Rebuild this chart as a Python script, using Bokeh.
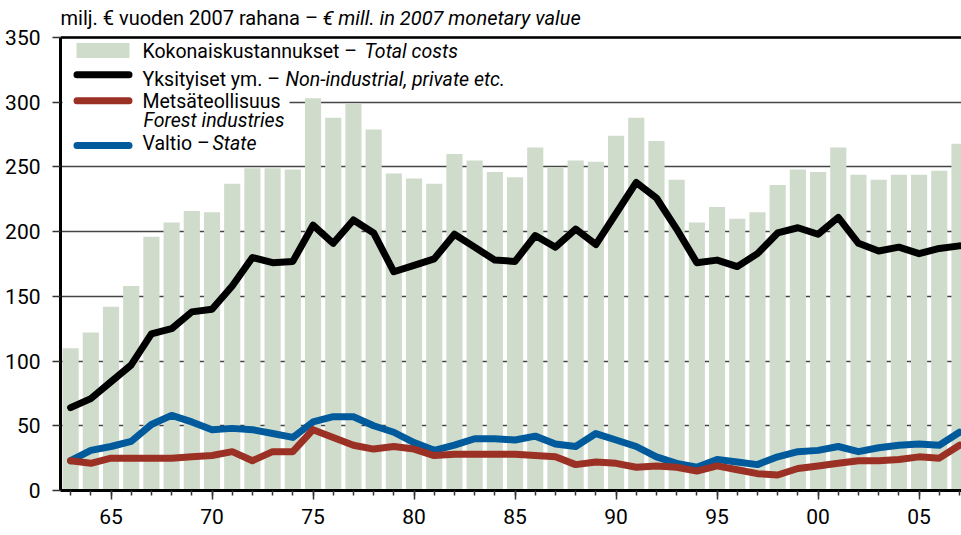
from bokeh.plotting import figure
from bokeh.models import Range1d, FixedTicker, Label, BoxAnnotation, Span
from bokeh.embed import file_html
from bokeh.resources import INLINE

# ---------------- data ----------------
years = list(range(1963, 2008))
total_costs = [110, 122, 142, 158, 196, 207, 216, 215, 237, 249, 249, 248,
               303, 288, 299, 279, 245, 241, 237, 260, 255, 246,
               242, 265, 250, 255, 254, 274, 288, 270, 240, 207,
               219, 210, 215, 236, 248, 246, 265, 244, 240, 244,
               244, 247, 268]
private = [64, 71, 84, 97, 121, 125, 138, 140, 158, 180, 176, 177,
           205, 191, 209, 199, 169, 174, 179, 198, 188, 178,
           177, 197, 188, 202, 190, 214, 238, 226, 202, 176,
           178, 173, 183, 199, 203, 198, 211, 191, 185, 188,
           183, 187, 189]
forest_ind = [23, 21, 25, 25, 25, 25, 26, 27, 30, 23, 30, 30,
              47, 41, 35, 32, 34, 32, 27, 28, 28, 28,
              28, 27, 26, 20, 22, 21, 18, 19, 18, 15,
              19, 16, 13, 12, 17, 19, 21, 23, 23, 24,
              26, 25, 35]
state = [23, 31, 34, 38, 51, 58, 53, 47, 48, 47, 44, 41,
         53, 57, 57, 50, 45, 37, 31, 35, 40, 40,
         39, 42, 36, 34, 44, 39, 34, 26, 21, 18,
         24, 22, 20, 26, 30, 31, 34, 30, 33, 35,
         36, 35, 45]
x_tick_years = [1965, 1970, 1975, 1980, 1985, 1990, 1995, 2000, 2005]
x_tick_labels = ["65", "70", "75", "80", "85", "90", "95", "00", "05"]
y_ticks = [0, 50, 100, 150, 200, 250, 300, 350]

title_plain = "milj. € vuoden 2007 rahana – "
title_italic = "€ mill. in 2007 monetary value"
leg_total = ("Kokonaiskustannukset – ", "Total costs")
leg_private = ("Yksityiset ym. – ", "Non-industrial, private etc.")
leg_forest = ("Metsäteollisuus", "Forest industries")
leg_state = ("Valtio – ", "State")

# ---------------- style ----------------
FONT = "Roboto"
BAR = "#d0dccb"
RED = "#9b3024"
BLUE = "#005a9b"
Y_TOP = 350 + 37 / (453 / 350)   # frame extends up to the page top (title area)
TXT_SHIFT = 7                   # label baseline correction (px)

p = figure(width=961, height=535, output_backend="svg", toolbar_location=None,
           x_range=Range1d(1962.5, 2007.1), y_range=Range1d(0, Y_TOP),
           min_border_left=60, min_border_right=0, min_border_top=0,
           min_border_bottom=45)
p.background_fill_color = "white"
p.border_fill_color = "white"
p.outline_line_color = None

p.vbar(x=years, top=total_costs, width=0.8, fill_color=BAR, line_color=None)
p.line(years, state, line_width=7, line_color=BLUE, line_join="round", line_cap="round")
p.line(years, forest_ind, line_width=7, line_color=RED, line_join="round", line_cap="round")
p.line(years, private, line_width=7, line_color="black", line_join="round", line_cap="round")

# grid / axes
p.xgrid.grid_line_color = None
p.ygrid.grid_line_color = "#444444"
p.ygrid.grid_line_width = 1.5
p.add_layout(Span(location=350, dimension="width", line_color="black", line_width=2.5))

xa = p.xaxis[0]
xa.ticker = FixedTicker(ticks=x_tick_years, minor_ticks=years)
xa.major_label_overrides = dict(zip(x_tick_years, x_tick_labels))
xa.axis_line_color = "black"
xa.axis_line_width = 3
xa.major_tick_out = 9
xa.major_tick_in = 0
xa.minor_tick_out = 5
xa.minor_tick_in = 0
xa.major_tick_line_color = "#333333"
xa.minor_tick_line_color = "#333333"
xa.major_tick_line_width = 1.5
xa.minor_tick_line_width = 1.5
xa.major_label_text_font = FONT
xa.major_label_text_font_size = "21px"
xa.major_label_text_color = "black"
xa.major_label_standoff = 9

ya = p.yaxis[0]
ya.ticker = FixedTicker(ticks=y_ticks)
ya.bounds = (0, 350)
ya.axis_line_color = "black"
ya.axis_line_width = 3
ya.major_tick_out = 8
ya.major_tick_in = 0
ya.minor_tick_line_color = None
ya.major_tick_line_color = "#333333"
ya.major_tick_line_width = 1.5
ya.major_label_text_font = FONT
ya.major_label_text_font_size = "21px"
ya.major_label_text_color = "black"
ya.major_label_standoff = 12


def sy(ref_y):
    # page y -> frame-relative screen y (measured up from the frame bottom at 490)
    return 490 - ref_y


def sx(ref_x):
    return ref_x - 60


def label(text, rx, ry, italic=False, size="19.5px"):
    p.add_layout(Label(x=sx(rx), y=sy(ry - TXT_SHIFT), x_units="screen", y_units="screen",
                       text=text, text_font=FONT, text_font_size=size,
                       text_font_style="italic" if italic else "normal",
                       text_color="black", text_baseline="alphabetic",
                       text_align="left"))


def box(l, r, t, b, color, radius=0):
    p.add_layout(BoxAnnotation(left=sx(l), right=sx(r), top=sy(t), bottom=sy(b),
                               left_units="screen", right_units="screen",
                               top_units="screen", bottom_units="screen",
                               fill_color=color, fill_alpha=1, line_color=None,
                               border_radius=radius))


# title
label(title_plain, 60, 24, size="20px")
label(title_italic, 322, 24, italic=True, size="20px")

# legend
box(62, 289, 39, 158, "white")
box(76, 129, 42.5, 57.5, BAR)
for cy, col in [(74.3, "black"), (100.3, RED), (145.0, BLUE)]:
    box(73, 132, cy - 3.5, cy + 3.5, col, radius=4)

label(leg_total[0], 142, 57.5)
label(leg_total[1], 364, 57.5, italic=True)
label(leg_private[0], 142, 86)
label(leg_private[1], 285, 86, italic=True)
label(leg_forest[0], 142, 107.5)
label(leg_forest[1], 143, 127, italic=True)
label(leg_state[0], 142, 150)
label(leg_state[1], 212, 150, italic=True)

open("out.html", "w").write(file_html(p, INLINE))
